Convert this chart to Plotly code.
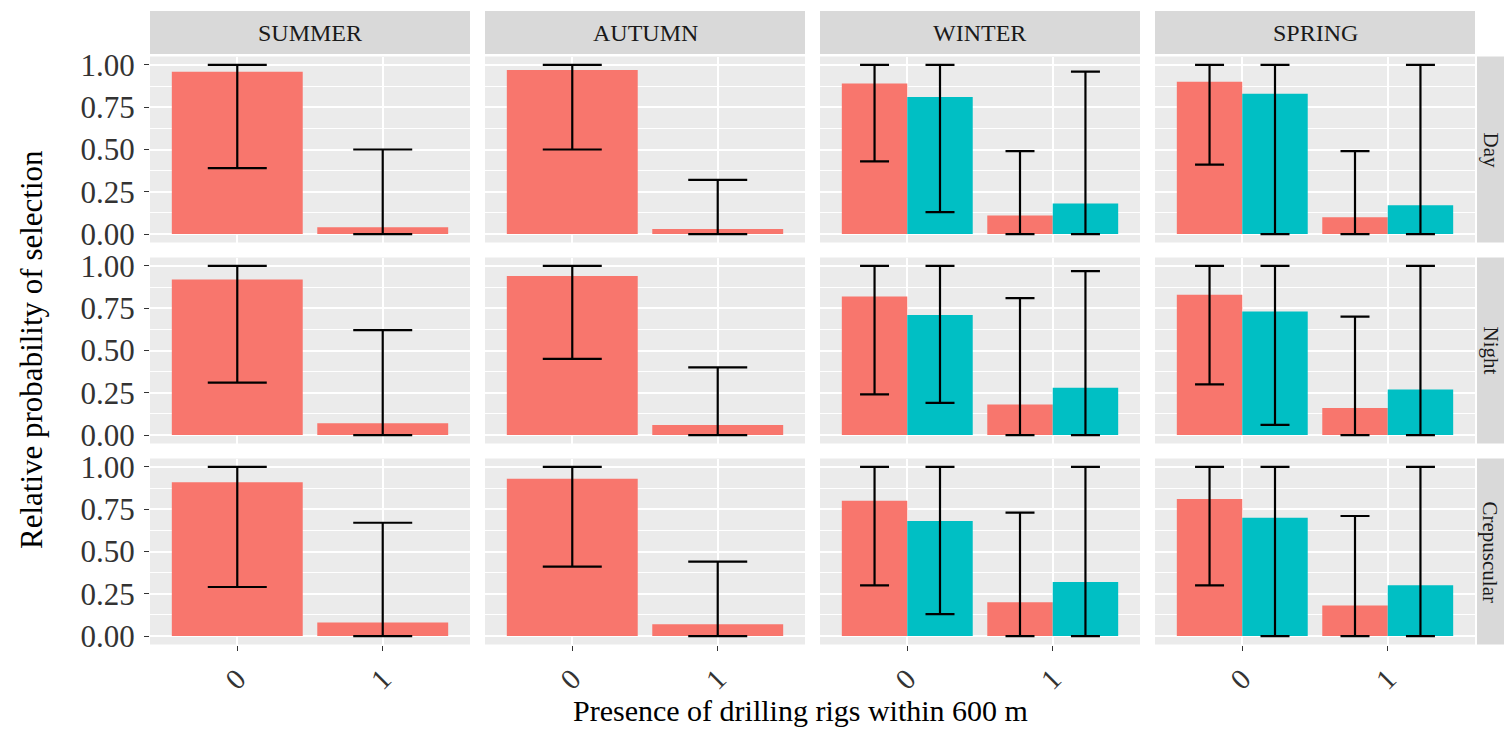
import plotly.graph_objects as go

# ---------------- data ----------------
SEASONS = ["SUMMER", "AUTUMN", "WINTER", "SPRING"]
PERIODS = ["Day", "Night", "Crepuscular"]
CATEGORIES = ["0", "1"]

# rows = Day, Night, Crepuscular ; columns = categories "0", "1"
SUMMER_A = [[0.96, 0.04], [0.92, 0.07], [0.91, 0.08]]
SUMMER_A_LO = [[0.39, 0.00], [0.31, 0.00], [0.29, 0.00]]
SUMMER_A_HI = [[1.00, 0.50], [1.00, 0.62], [1.00, 0.67]]

AUTUMN_A = [[0.97, 0.03], [0.94, 0.06], [0.93, 0.07]]
AUTUMN_A_LO = [[0.50, 0.00], [0.45, 0.00], [0.41, 0.00]]
AUTUMN_A_HI = [[1.00, 0.32], [1.00, 0.40], [1.00, 0.44]]

WINTER_A = [[0.89, 0.11], [0.82, 0.18], [0.80, 0.20]]
WINTER_A_LO = [[0.43, 0.00], [0.24, 0.00], [0.30, 0.00]]
WINTER_A_HI = [[1.00, 0.49], [1.00, 0.81], [1.00, 0.73]]
WINTER_B = [[0.81, 0.18], [0.71, 0.28], [0.68, 0.32]]
WINTER_B_LO = [[0.13, 0.00], [0.19, 0.00], [0.13, 0.00]]
WINTER_B_HI = [[1.00, 0.96], [1.00, 0.97], [1.00, 1.00]]

SPRING_A = [[0.90, 0.10], [0.83, 0.16], [0.81, 0.18]]
SPRING_A_LO = [[0.41, 0.00], [0.30, 0.00], [0.30, 0.00]]
SPRING_A_HI = [[1.00, 0.49], [1.00, 0.70], [1.00, 0.71]]
SPRING_B = [[0.83, 0.17], [0.73, 0.27], [0.70, 0.30]]
SPRING_B_LO = [[0.00, 0.00], [0.06, 0.00], [0.00, 0.00]]
SPRING_B_HI = [[1.00, 1.00], [1.00, 1.00], [1.00, 1.00]]

Y_TICKS = [0.0, 0.25, 0.5, 0.75, 1.0]
Y_TICK_TEXT = ["0.00", "0.25", "0.50", "0.75", "1.00"]
X_TITLE = "Presence of drilling rigs within 600 m"
Y_TITLE = "Relative probability of selection"

SERIES_A = {"SUMMER": (SUMMER_A, SUMMER_A_LO, SUMMER_A_HI),
            "AUTUMN": (AUTUMN_A, AUTUMN_A_LO, AUTUMN_A_HI),
            "WINTER": (WINTER_A, WINTER_A_LO, WINTER_A_HI),
            "SPRING": (SPRING_A, SPRING_A_LO, SPRING_A_HI)}
SERIES_B = {"WINTER": (WINTER_B, WINTER_B_LO, WINTER_B_HI),
            "SPRING": (SPRING_B, SPRING_B_LO, SPRING_B_HI)}

# ---------------- style / geometry ----------------
W, H = 1504, 729
RED = "#F8766D"
TEAL = "#00BFC4"
PANEL_BG = "#EBEBEB"
STRIP_BG = "#D9D9D9"
FONT = "Liberation Serif"

COL_X0 = [150, 485, 820, 1155]
COL_W = 320
ROW_Y0 = [56.5, 257.5, 458.5]
ROW_H = 186
STRIP_TOP = (11, 54)
RSTRIP_X = (1477, 1504)


def fx(px):
    return px / W


def fy(py):
    return 1 - py / H


fig = go.Figure()
layout = {}
annotations = []
shapes = []

for r, period in enumerate(PERIODS):
    for c, season in enumerate(SEASONS):
        k = r * 4 + c + 1
        xa = "x" if k == 1 else f"x{k}"
        ya = "y" if k == 1 else f"y{k}"
        two = season in SERIES_B
        mean, lo, hi = SERIES_A[season]
        m = mean[r]
        fig.add_trace(go.Bar(
            x=CATEGORIES, y=m, xaxis=xa, yaxis=ya,
            marker=dict(color=RED, line=dict(width=0)),
            width=0.45 if two else 0.9,
            offset=-0.45,
            error_y=dict(type="data", symmetric=False,
                         array=[h - v for h, v in zip(hi[r], m)],
                         arrayminus=[v - l for l, v in zip(lo[r], m)],
                         color="black", thickness=2.2,
                         width=14.5 if two else 29.5),
            showlegend=False, hoverinfo="skip"))
        if two:
            mean, lo, hi = SERIES_B[season]
            m = mean[r]
            fig.add_trace(go.Bar(
                x=CATEGORIES, y=m, xaxis=xa, yaxis=ya,
                marker=dict(color=TEAL, line=dict(width=0)),
                width=0.45, offset=0.0,
                error_y=dict(type="data", symmetric=False,
                             array=[h - v for h, v in zip(hi[r], m)],
                             arrayminus=[v - l for l, v in zip(lo[r], m)],
                             color="black", thickness=2.2, width=14.5),
                showlegend=False, hoverinfo="skip"))

        x0 = COL_X0[c]
        y0 = ROW_Y0[r]
        xkey = "xaxis" if k == 1 else f"xaxis{k}"
        ykey = "yaxis" if k == 1 else f"yaxis{k}"
        layout[xkey] = dict(
            domain=[fx(x0), fx(x0 + COL_W)], anchor=ya,
            type="category", categoryorder="array", categoryarray=CATEGORIES,
            range=[-0.6, 1.6], showgrid=True, gridcolor="white", gridwidth=1.8,
            zeroline=False, showline=False,
            showticklabels=(r == 2), ticks="outside" if r == 2 else "",
            ticklen=5, tickcolor="#333333", tickwidth=1.2, tickangle=-45,
            tickfont=dict(family=FONT, size=29, color="#333333"),
            fixedrange=True)
        layout[ykey] = dict(
            domain=[fy(y0 + ROW_H), fy(y0)], anchor=xa,
            range=[-0.05, 1.05], tickvals=Y_TICKS, ticktext=Y_TICK_TEXT,
            showgrid=True, gridcolor="white", gridwidth=1.8,
            minor=dict(tick0=0.125, dtick=0.25, showgrid=True,
                       gridcolor="white", gridwidth=0.8),
            zeroline=False, showline=False,
            showticklabels=(c == 0), ticks="outside" if c == 0 else "",
            ticklen=5, tickcolor="#333333", tickwidth=1.2,
            ticklabelstandoff=3,
            tickfont=dict(family=FONT, size=31, color="#333333"),
            fixedrange=True)
        # panel background
        shapes.append(dict(type="rect", xref="paper", yref="paper",
                           x0=fx(x0), x1=fx(x0 + COL_W), y0=fy(y0 + ROW_H), y1=fy(y0),
                           fillcolor=PANEL_BG, line=dict(width=0), layer="below"))

# top strips
for c, season in enumerate(SEASONS):
    x0 = COL_X0[c]
    shapes.append(dict(type="rect", xref="paper", yref="paper",
                       x0=fx(x0), x1=fx(x0 + COL_W), y0=fy(STRIP_TOP[1]), y1=fy(STRIP_TOP[0]),
                       fillcolor=STRIP_BG, line=dict(width=0), layer="below"))
    annotations.append(dict(text=season, xref="paper", yref="paper",
                            x=fx(x0 + COL_W / 2), y=fy((STRIP_TOP[0] + STRIP_TOP[1]) / 2),
                            xanchor="center", yanchor="middle", showarrow=False,
                            font=dict(family=FONT, size=24, color="#1A1A1A")))

# right strips
for r, period in enumerate(PERIODS):
    y0 = ROW_Y0[r]
    shapes.append(dict(type="rect", xref="paper", yref="paper",
                       x0=fx(RSTRIP_X[0]), x1=fx(RSTRIP_X[1]), y0=fy(y0 + ROW_H), y1=fy(y0),
                       fillcolor=STRIP_BG, line=dict(width=0), layer="below"))
    annotations.append(dict(text=period, xref="paper", yref="paper",
                            x=fx(1490), y=fy(y0 + ROW_H / 2),
                            xanchor="center", yanchor="middle", showarrow=False,
                            textangle=90,
                            font=dict(family=FONT, size=21, color="#1A1A1A")))

# axis titles
annotations.append(dict(text=X_TITLE, xref="paper", yref="paper",
                        x=fx(800), y=fy(710), xanchor="center", yanchor="middle",
                        showarrow=False, font=dict(family=FONT, size=30, color="black")))
annotations.append(dict(text=Y_TITLE, xref="paper", yref="paper",
                        x=fx(31), y=fy(350), xanchor="center", yanchor="middle",
                        showarrow=False, textangle=-90,
                        font=dict(family=FONT, size=31, color="black")))

fig.update_layout(
    width=W, height=H, margin=dict(l=0, r=0, t=0, b=0, autoexpand=False),
    paper_bgcolor="white", plot_bgcolor="rgba(0,0,0,0)",
    barmode="overlay", showlegend=False,
    shapes=shapes, annotations=annotations, **layout)

fig.write_html("out.html")
